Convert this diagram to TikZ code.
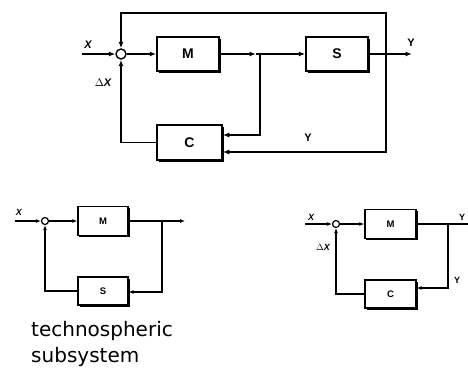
\documentclass[tikz,border=0pt]{standalone}
\usepackage{fontspec}
\setmainfont{Liberation Sans}
\newfontfamily\dejavu{DejaVu Sans}
\usetikzlibrary{arrows.meta,shadows}
\begin{document}
\begin{tikzpicture}[x=1pt,y=-1pt,
  ln/.style={line width=1.5pt},
  arr/.style={ln,-{Latex[length=6.5pt,width=5pt]}},
  sarr/.style={line width=1.3pt,-{Latex[length=5pt,width=4pt]}},
  blk/.style={draw, fill=white, line width=1.5pt, inner sep=0pt,
    font=\bfseries\fontsize{14}{14}\selectfont,
    drop shadow={shadow xshift=1.6pt, shadow yshift=-1.6pt, opacity=1, fill=black}},
  sblk/.style={blk, line width=1.3pt, font=\bfseries\fontsize{9.5}{9.5}\selectfont,
    drop shadow={shadow xshift=1.3pt, shadow yshift=-1.3pt, opacity=1, fill=black}},
  sum/.style={draw, circle, fill=white, line width=1.4pt, inner sep=0pt},
  lbl/.style={font=\bfseries\itshape\fontsize{11}{11}\selectfont, inner sep=0pt},
  slbl/.style={font=\bfseries\itshape\fontsize{9}{9}\selectfont, inner sep=0pt}]
\useasboundingbox (0,0) rectangle (468,367);

% ---------- top diagram ----------
\node[sum, minimum size=10pt] (s1) at (121,54) {};
\node[blk, minimum width=62pt, minimum height=34pt] (M1) at (188,54) {M};
\node[blk, minimum width=62pt, minimum height=34pt] (S1) at (337,54) {S};
\node[blk, minimum width=65pt, minimum height=35pt] (C1) at (189.5,142.5) {C};
\coordinate (x1) at (82,54);
\coordinate (a1) at (256,54);
\coordinate (j1) at (260,54);
\coordinate (j2) at (260,135);
\coordinate (f1) at (386,54);
\coordinate (f2) at (386,152);
\coordinate (t1) at (121,13);
\coordinate (o1) at (412,54);
\draw[arr] (x1) -- (s1);
\draw[arr] (s1) -- (M1);
\draw[arr] (M1) -- (a1);
\draw[ln] (a1) -- (j1);
\draw[arr] (j1) -- (S1);
\draw[arr] (S1) -- (o1);
\draw[arr] (f1) |- (t1) -- (s1.north);
\draw[arr] (j1) -- (j2) -- (C1.east |- j2);
\draw[arr] (f1) -- (f2) -- (C1.east |- f2);
\draw[arr] (C1.west) -| (s1.south);
\node[lbl] (lx1) at (88,45) {X};
\node[lbl] (ld1) at (103,83) {$\Delta$X};
\node[lbl, font=\bfseries\fontsize{11}{11}\selectfont] (ly1) at (411,43) {Y};
\node[lbl, font=\bfseries\fontsize{11}{11}\selectfont] (ly2) at (308,138) {Y};

% ---------- bottom-left diagram ----------
\node[sum, minimum size=7pt, line width=1.2pt] (s2) at (45,221) {};
\node[sblk, minimum width=50pt, minimum height=29pt] (M2) at (103,221) {M};
\node[sblk, minimum width=50pt, minimum height=28pt] (S2) at (103,291) {S};
\coordinate (x2) at (15,221);
\coordinate (j3) at (162,221);
\coordinate (j4) at (162,292);
\coordinate (o2) at (185,221);
\draw[sarr] (x2) -- (s2);
\draw[sarr] (s2) -- (M2);
\draw[sarr] (M2) -- (o2);
\draw[sarr] (j3) -- (j4) -- (S2.east |- j4);
\draw[sarr] (S2.west) -| (s2.south);
\node[slbl] (lx2) at (19,212) {X};
\node[anchor=base west, inner sep=0pt, font=\dejavu\fontsize{20}{20}\selectfont] (t1a) at (31,336) {technospheric};
\node[anchor=base west, inner sep=0pt, font=\dejavu\fontsize{20}{20}\selectfont] (t1b) at (31,362) {subsystem};

% ---------- bottom-right diagram ----------
\node[sum, minimum size=7pt, line width=1.2pt] (s3) at (336,224) {};
\node[sblk, minimum width=51pt, minimum height=29pt] (M3) at (390.5,224) {M};
\node[sblk, minimum width=51pt, minimum height=28pt] (C3) at (390.5,294) {C};
\coordinate (x3) at (305,224);
\coordinate (j5) at (448,224);
\coordinate (j6) at (448,288);
\coordinate (o3) at (468,224);
\draw[sarr] (x3) -- (s3);
\draw[sarr] (s3) -- (M3);
\draw[line width=1.3pt] (M3) -- (o3);
\draw[sarr] (j5) -- (j6) -- (C3.east |- j6);
\draw[sarr] (C3.west) -| (s3.south);
\node[slbl] (lx3) at (311,217) {X};
\node[slbl] (ld3) at (323,247) {$\Delta$X};
\node[slbl, font=\bfseries\fontsize{9}{9}\selectfont] (ly3) at (462,217) {Y};
\node[slbl, font=\bfseries\fontsize{9}{9}\selectfont] (ly4) at (457,280) {Y};
\end{tikzpicture}
\end{document}
